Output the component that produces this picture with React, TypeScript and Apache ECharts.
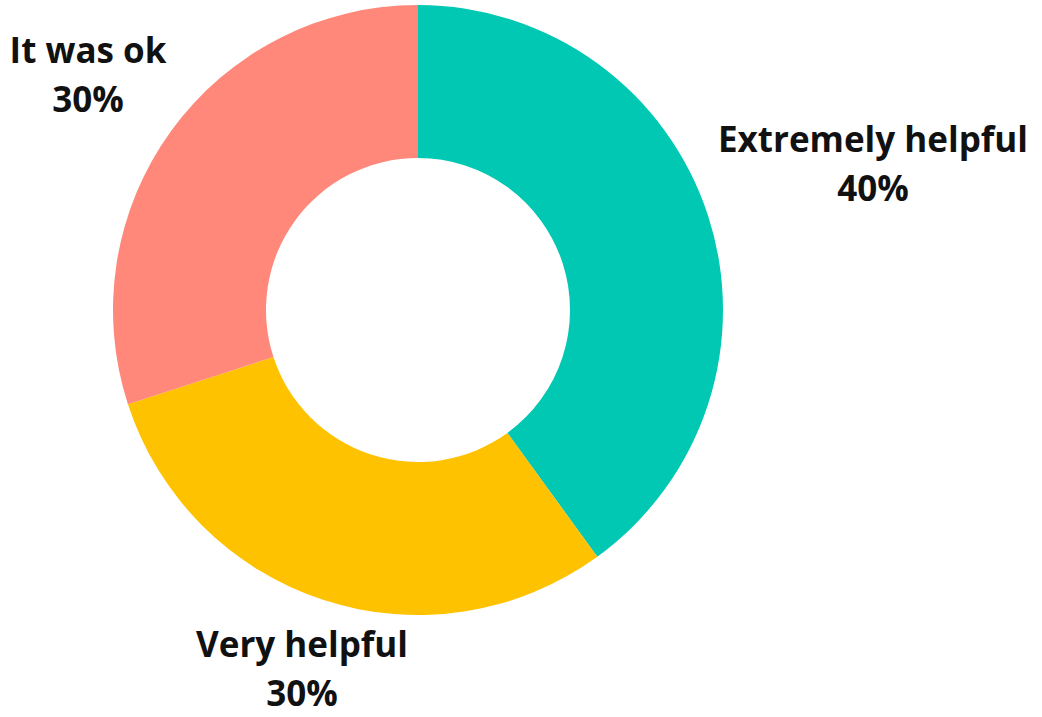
import React, { useEffect, useRef } from "react";
import * as echarts from "echarts";

const categories = ["Extremely helpful", "Very helpful", "It was ok"];
const values = [40, 30, 30];
const colors = ["#00C8B3", "#FEC200", "#FF887A"];
const labelPositions: [number, number][] = [
  [873, 163],
  [302, 668],
  [88, 74],
];

export default function App() {
  const ref = useRef<HTMLDivElement>(null);
  useEffect(() => {
    document.body.style.margin = "0";
    const chart = echarts.init(ref.current!, null, { renderer: "svg" });
    chart.setOption({
      animation: false,
      series: [
        {
          type: "pie",
          center: [418, 310],
          radius: [152, 305],
          startAngle: 90,
          clockwise: true,
          data: categories.map((c, i) => ({
            name: c,
            value: values[i],
            itemStyle: { color: colors[i] },
          })),
          label: {
            show: true,
            position: "outside",
            formatter: "{b}\n{d}%",
            fontFamily: "Open Sans",
            fontWeight: "bold",
            fontSize: 35,
            lineHeight: 49,
            color: "#111",
            align: "center",
            overflow: "none",
          },
          labelLine: { show: false },
          labelLayout: (params: any) => ({
            x: labelPositions[params.dataIndex][0],
            y: labelPositions[params.dataIndex][1],
            align: "center",
            verticalAlign: "middle",
          }),
          emphasis: { disabled: true },
        },
      ],
    });
    return () => chart.dispose();
  }, []);
  return <div ref={ref} style={{ width: 1042, height: 717 }} />;
}
